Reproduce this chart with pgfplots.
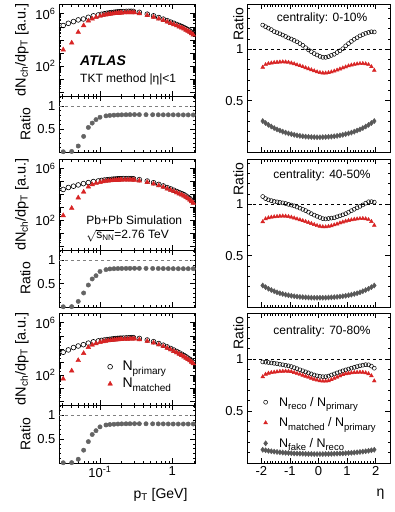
\documentclass[border=0pt]{standalone}
\usepackage{fontspec}
\setmainfont{Liberation Sans}
\usepackage{pgfplots}
\pgfplotsset{compat=1.18}
\definecolor{atlred}{RGB}{216,36,36}
\definecolor{dgray}{RGB}{88,88,88}
\definecolor{mgray}{RGB}{100,100,100}
\newcommand{\fs}[1]{\fontsize{#1}{#1}\selectfont}
\newcommand{\lsub}[1]{\raisebox{-4pt}{\fs{10}#1}}
\newcommand{\rsub}[1]{\raisebox{-3.5pt}{\fs{9.5}#1}}
\pgfplotsset{
  zzbase/.style={scale only axis, axis line style={black, line width=0.7pt},
    every tick/.style={black, line width=0.6pt}, major tick length=5pt, minor tick length=2.5pt,
    tick align=inside,
    tick label style={font=\fs{13}}, label style={font=\fs{14}}},
  zzleftx/.style={zzbase, xmin=0.0271, xmax=2.06, xtick={0.1,1},
    minor xtick={0.03,0.04,0.05,0.06,0.07,0.08,0.09,0.2,0.3,0.4,0.5,0.6,0.7,0.8,0.9,2},
    xticklabels={}, width=136pt},
  zzspec/.style={zzleftx, ymin=0.5, ymax=5.6e6,
    ytick={1,10,100,1000,10000,100000,1000000},
    yticklabels={,,10\textsuperscript{2},,,,10\textsuperscript{6}},
    ylabel={dN\textsubscript{ch}/dp\textsubscript{T} [a.u.]}, ylabel style={font=\fs{14.5}}},
  zzrat/.style={zzleftx, clip=false, ymin=0, ymax=1.22, ytick={0.5,1}, yticklabels={0.5,1},
    minor ytick={0.1,0.2,0.3,0.4,0.6,0.7,0.8,0.9,1.1,1.2}, ylabel={Ratio}},
  zzright/.style={zzbase, xmin=-2.5, xmax=2.5, xtick={-2,-1,0,1,2}, minor x tick num=9,
    xticklabels={}, ymin=0, ymax=1.44, ytick={0.5,1}, yticklabels={0.5,1},
    minor ytick={0.1,0.2,0.3,0.4,0.6,0.7,0.8,0.9,1.1,1.2,1.3,1.4}, width=143pt,
    ylabel={Ratio}, ylabel style={at={(ticklabel* cs:1)}, anchor=south east}},
  zzpc/.style={only marks, mark=o, mark size=2.4pt, black, mark options={line width=0.6pt}},
  zzpt/.style={only marks, mark=triangle*, mark size=2.7pt, atlred},
  zzrc/.style={only marks, mark=o, mark size=2pt, black, mark options={line width=0.5pt}},
  zzrt/.style={only marks, mark=triangle*, mark size=2.2pt, atlred},
  zzrd/.style={only marks, mark=diamond*, mark size=2.6pt, dgray},
  zzrr/.style={only marks, mark=*, mark size=2.2pt, mgray},
  zzdl/.style={black, dashed, line width=0.5pt, forget plot},
}
\begin{document}
\begin{tikzpicture}
\path[use as bounding box] (0pt,0pt) rectangle (395pt,-512pt);
% ---------------- left panel 1 ----------------
\begin{axis}[xmode=log, ymode=log, zzspec, at={(59pt,-4pt)}, anchor=north west, height=92pt]
\addplot[zzpc] coordinates {(0.031,1.26e5)(0.0365,1.86e5)(0.043,2.51e5)(0.050,3.39e5)(0.059,3.98e5)(0.069,5.37e5)(0.081,6.92e5)(0.095,8.13e5)(0.105,9.12e5)(0.115,1.00e6)(0.125,1.10e6)(0.135,1.17e6)(0.145,1.23e6)(0.155,1.29e6)(0.165,1.35e6)(0.175,1.38e6)(0.185,1.41e6)(0.195,1.45e6)(0.21,1.48e6)(0.23,1.51e6)(0.25,1.55e6)(0.27,1.55e6)(0.29,1.51e6)(0.35,1.29e6)(0.45,9.33e5)(0.55,6.92e5)(0.65,5.13e5)(0.75,3.89e5)(0.85,2.95e5)(0.95,2.29e5)(1.05,1.86e5)(1.15,1.51e5)(1.25,1.26e5)(1.35,1.05e5)(1.45,8.71e4)(1.55,7.08e4)(1.65,5.89e4)(1.75,4.79e4)(1.85,3.80e4)(1.95,3.02e4)};
\addplot[zzpt] coordinates {(0.031,1.74e3)(0.0406,5.89e3)(0.05,3.89e4)(0.0594,1.26e5)(0.069,2.88e5)(0.078,4.07e5)(0.088,5.37e5)(0.1,6.61e5)(0.11,7.50e5)(0.12,8.32e5)(0.13,9.12e5)(0.14,9.77e5)(0.15,1.02e6)(0.16,1.07e6)(0.17,1.11e6)(0.18,1.14e6)(0.19,1.16e6)(0.2,1.17e6)(0.22,1.22e6)(0.24,1.24e6)(0.26,1.26e6)(0.28,1.24e6)(0.3,1.22e6)(0.35,1.05e6)(0.45,7.59e5)(0.55,5.62e5)(0.65,4.17e5)(0.75,3.16e5)(0.85,2.40e5)(0.95,1.86e5)(1.05,1.51e5)(1.15,1.23e5)(1.25,1.02e5)(1.35,8.51e4)(1.45,7.08e4)(1.55,5.75e4)(1.65,4.79e4)(1.75,3.89e4)(1.85,3.09e4)(1.95,2.45e4)};
\node[anchor=west, font=\fs{14}] at (rel axis cs:0.13,0.38) {\textbf{\textit{ATLAS}}};
\node[anchor=west, font=\fs{12}] at (rel axis cs:0.13,0.185) {TKT method |η|<1};
\end{axis}
\begin{axis}[xmode=log, zzrat, at={(59pt,-96pt)}, anchor=north west, height=56pt]
\addplot[zzdl, gray] coordinates {(0.0271,1)(2.06,1)};
\addplot[zzrr, error bars/.cd, x dir=both, x explicit, error bar style={black, line width=0.6pt}, error mark=none] coordinates {(0.031,0.005)(0.0406,0.012)(0.05,0.13)(0.0594,0.34)(0.069,0.535)(0.078,0.63)(0.088,0.705)(0.1,0.757)(0.121,0.787)(0.137,0.797)(0.156,0.803)(0.177,0.807)(0.2,0.81)(0.229,0.812)(0.26,0.814)(0.3,0.815) +- (0.045,0)(0.35,0.814)(0.433,0.813)(0.535,0.812)(0.64,0.811)(0.75,0.81)(0.88,0.81)(1.03,0.81)(1.21,0.809)(1.42,0.808)(1.66,0.808)(1.95,0.807)};
\end{axis}
% ---------------- left panel 2 ----------------
\begin{axis}[xmode=log, ymode=log, zzspec, at={(59pt,-159pt)}, anchor=north west, height=91pt]
\addplot[zzpc] coordinates {(0.031,2.45e4)(0.0365,3.47e4)(0.043,4.37e4)(0.050,5.50e4)(0.059,6.92e4)(0.069,8.32e4)(0.081,1.00e5)(0.095,1.12e5)(0.105,1.23e5)(0.115,1.32e5)(0.125,1.38e5)(0.135,1.45e5)(0.145,1.51e5)(0.155,1.55e5)(0.165,1.58e5)(0.175,1.62e5)(0.185,1.66e5)(0.195,1.66e5)(0.21,1.70e5)(0.23,1.70e5)(0.25,1.70e5)(0.27,1.70e5)(0.29,1.66e5)(0.35,1.41e5)(0.45,1.10e5)(0.55,8.13e4)(0.65,6.03e4)(0.75,4.57e4)(0.85,3.39e4)(0.95,2.69e4)(1.05,2.14e4)(1.15,1.70e4)(1.25,1.38e4)(1.35,1.15e4)(1.45,9.55e3)(1.55,7.59e3)(1.65,6.03e3)(1.75,4.68e3)(1.85,3.55e3)(1.95,2.69e3)};
\addplot[zzpt] coordinates {(0.031,2.34e2)(0.0406,8.71e2)(0.05,5.62e3)(0.0594,1.58e4)(0.069,3.89e4)(0.078,5.89e4)(0.088,7.24e4)(0.1,8.91e4)(0.11,1.00e5)(0.12,1.08e5)(0.13,1.15e5)(0.14,1.20e5)(0.15,1.24e5)(0.16,1.27e5)(0.17,1.30e5)(0.18,1.33e5)(0.19,1.35e5)(0.2,1.36e5)(0.22,1.38e5)(0.24,1.38e5)(0.26,1.38e5)(0.28,1.36e5)(0.3,1.33e5)(0.35,1.15e5)(0.45,8.91e4)(0.55,6.61e4)(0.65,4.90e4)(0.75,3.72e4)(0.85,2.75e4)(0.95,2.19e4)(1.05,1.74e4)(1.15,1.38e4)(1.25,1.12e4)(1.35,9.33e3)(1.45,7.76e3)(1.55,6.17e3)(1.65,4.90e3)(1.75,3.80e3)(1.85,2.88e3)(1.95,2.19e3)};
\node[anchor=base west, font=\fs{12}, inner sep=0pt] at (rel axis cs:0.2,0.285) {Pb+Pb Simulation};
\node[anchor=base west, font=\fs{12}, inner sep=0pt] at (rel axis cs:0.2,0.125) {$\sqrt{\mbox{s\textsubscript{NN}}}$=2.76 TeV};
\end{axis}
\begin{axis}[xmode=log, zzrat, at={(59pt,-250pt)}, anchor=north west, height=57pt]
\addplot[zzdl, gray] coordinates {(0.0271,1)(2.06,1)};
\addplot[zzrr, error bars/.cd, x dir=both, x explicit, error bar style={black, line width=0.6pt}, error mark=none] coordinates {(0.031,0.005)(0.0406,0.008)(0.05,0.12)(0.0594,0.30)(0.069,0.47)(0.078,0.60)(0.088,0.67)(0.1,0.76)(0.121,0.80)(0.137,0.815)(0.156,0.82)(0.177,0.823)(0.2,0.825)(0.229,0.826)(0.26,0.827)(0.3,0.828) +- (0.045,0)(0.35,0.827)(0.433,0.826)(0.535,0.825)(0.64,0.824)(0.75,0.823)(0.88,0.822)(1.03,0.821)(1.21,0.82)(1.42,0.82)(1.66,0.82)(1.95,0.82)};
\end{axis}
% ---------------- left panel 3 ----------------
\begin{axis}[xmode=log, ymode=log, zzspec, at={(59pt,-313pt)}, anchor=north west, height=92pt,
  legend style={at={(rel axis cs:0.357,0.5)}, anchor=north west, draw=none, fill=none, font=\fs{14}, row sep=2pt, column sep=8pt, inner sep=0pt}, legend cell align=left]
\addplot[zzpc] coordinates {(0.031,5.50e3)(0.0365,8.32e3)(0.043,1.26e4)(0.050,1.66e4)(0.059,2.09e4)(0.069,2.75e4)(0.081,3.47e4)(0.095,4.07e4)(0.105,4.47e4)(0.115,4.79e4)(0.125,5.13e4)(0.135,5.37e4)(0.145,5.62e4)(0.155,5.89e4)(0.165,6.17e4)(0.175,6.31e4)(0.185,6.46e4)(0.195,6.61e4)(0.21,6.76e4)(0.23,6.92e4)(0.25,7.08e4)(0.27,7.24e4)(0.29,7.24e4)(0.35,6.31e4)(0.45,4.79e4)(0.55,3.55e4)(0.65,2.57e4)(0.75,1.91e4)(0.85,1.41e4)(0.95,1.07e4)(1.05,8.13e3)(1.15,6.31e3)(1.25,4.90e3)(1.35,3.89e3)(1.45,3.09e3)(1.55,2.45e3)(1.65,1.95e3)(1.75,1.55e3)(1.85,1.20e3)(1.95,9.33e2)};
\addlegendentry{N\lsub{primary}}
\addplot[zzpt] coordinates {(0.031,50.1)(0.0406,2.09e2)(0.05,1.32e3)(0.0594,4.57e3)(0.069,1.32e4)(0.078,2.00e4)(0.088,2.57e4)(0.1,3.24e4)(0.11,3.67e4)(0.12,3.98e4)(0.13,4.27e4)(0.14,4.47e4)(0.15,4.68e4)(0.16,4.90e4)(0.17,5.07e4)(0.18,5.19e4)(0.19,5.31e4)(0.2,5.43e4)(0.22,5.56e4)(0.24,5.69e4)(0.26,5.82e4)(0.28,5.89e4)(0.3,5.82e4)(0.35,5.13e4)(0.45,3.89e4)(0.55,2.88e4)(0.65,2.09e4)(0.75,1.55e4)(0.85,1.15e4)(0.95,8.71e3)(1.05,6.61e3)(1.15,5.13e3)(1.25,3.98e3)(1.35,3.16e3)(1.45,2.51e3)(1.55,2.00e3)(1.65,1.58e3)(1.75,1.26e3)(1.85,9.77e2)(1.95,7.59e2)};
\addlegendentry{N\lsub{matched}}
\end{axis}
\begin{axis}[xmode=log, zzrat, at={(59pt,-405pt)}, anchor=north west, height=58pt,
  xticklabels={10\textsuperscript{-1},1}, xlabel={p\textsubscript{T} [GeV]},
  xlabel style={at={(rel axis cs:1,0)}, anchor=north east, yshift=-22pt, xshift=-4pt}]
\addplot[zzdl, gray] coordinates {(0.0271,1)(2.06,1)};
\addplot[zzrr, error bars/.cd, x dir=both, x explicit, error bar style={black, line width=0.6pt}, error mark=none] coordinates {(0.031,0.005)(0.0406,0.008)(0.05,0.08)(0.0594,0.27)(0.069,0.45)(0.078,0.60)(0.088,0.68)(0.1,0.76)(0.121,0.80)(0.137,0.81)(0.156,0.815)(0.177,0.82)(0.2,0.823)(0.229,0.825)(0.26,0.826)(0.3,0.827) +- (0.045,0)(0.35,0.826)(0.433,0.825)(0.535,0.824)(0.64,0.823)(0.75,0.822)(0.88,0.821)(1.03,0.82)(1.21,0.82)(1.42,0.82)(1.66,0.82)(1.95,0.82)};
\end{axis}
% ---------------- right panel 1 ----------------
\begin{axis}[zzright, at={(247pt,-4pt)}, anchor=north west, height=148pt]
\addplot[zzdl] coordinates {(-2.5,1)(2.5,1)};
\addplot[zzrc] coordinates {(-1.95,1.235)(-1.85,1.219)(-1.75,1.205)(-1.65,1.191)(-1.55,1.172)(-1.45,1.162)(-1.35,1.150)(-1.25,1.138)(-1.15,1.124)(-1.05,1.110)(-0.95,1.099)(-0.85,1.086)(-0.75,1.072)(-0.65,1.055)(-0.55,1.038)(-0.45,1.015)(-0.35,0.994)(-0.25,0.976)(-0.15,0.958)(-0.05,0.944)(0.05,0.930)(0.15,0.921)(0.25,0.921)(0.35,0.928)(0.45,0.940)(0.55,0.951)(0.65,0.968)(0.75,0.985)(0.85,1.005)(0.95,1.033)(1.05,1.055)(1.15,1.076)(1.25,1.097)(1.35,1.112)(1.45,1.130)(1.55,1.143)(1.65,1.155)(1.75,1.163)(1.85,1.170)(1.95,1.168)};
\addplot[zzrt] coordinates {(-1.95,0.825)(-1.85,0.850)(-1.75,0.860)(-1.65,0.866)(-1.55,0.870)(-1.45,0.873)(-1.35,0.876)(-1.25,0.877)(-1.15,0.876)(-1.05,0.872)(-0.95,0.866)(-0.85,0.858)(-0.75,0.848)(-0.65,0.840)(-0.55,0.830)(-0.45,0.820)(-0.35,0.810)(-0.25,0.800)(-0.15,0.790)(-0.05,0.780)(0.05,0.773)(0.15,0.769)(0.25,0.768)(0.35,0.772)(0.45,0.779)(0.55,0.787)(0.65,0.797)(0.75,0.808)(0.85,0.818)(0.95,0.828)(1.05,0.838)(1.15,0.846)(1.25,0.852)(1.35,0.857)(1.45,0.860)(1.55,0.861)(1.65,0.858)(1.75,0.850)(1.85,0.830)(1.95,0.795)};
\addplot[zzrd] coordinates {(-1.95,0.301)(-1.85,0.282)(-1.75,0.264)(-1.65,0.248)(-1.55,0.233)(-1.45,0.220)(-1.35,0.209)(-1.25,0.198)(-1.15,0.189)(-1.05,0.181)(-0.95,0.174)(-0.85,0.167)(-0.75,0.162)(-0.65,0.157)(-0.55,0.153)(-0.45,0.150)(-0.35,0.148)(-0.25,0.146)(-0.15,0.145)(-0.05,0.144)(0.05,0.144)(0.15,0.145)(0.25,0.146)(0.35,0.148)(0.45,0.150)(0.55,0.153)(0.65,0.157)(0.75,0.162)(0.85,0.167)(0.95,0.174)(1.05,0.181)(1.15,0.189)(1.25,0.198)(1.35,0.209)(1.45,0.220)(1.55,0.233)(1.65,0.248)(1.75,0.264)(1.85,0.282)(1.95,0.301)};
\node[font=\fs{12}] at (rel axis cs:0.525,0.9) {centrality: 0-10\%};
\end{axis}
% ---------------- right panel 2 ----------------
\begin{axis}[zzright, at={(247pt,-159pt)}, anchor=north west, height=148pt]
\addplot[zzdl] coordinates {(-2.5,1)(2.5,1)};
\addplot[zzrc] coordinates {(-1.95,1.075)(-1.85,1.055)(-1.75,1.043)(-1.65,1.035)(-1.55,1.027)(-1.45,1.023)(-1.35,1.018)(-1.25,1.013)(-1.15,1.007)(-1.05,0.999)(-0.95,0.992)(-0.85,0.984)(-0.75,0.973)(-0.65,0.962)(-0.55,0.950)(-0.45,0.938)(-0.35,0.923)(-0.25,0.908)(-0.15,0.894)(-0.05,0.882)(0.05,0.871)(0.15,0.860)(0.25,0.857)(0.35,0.861)(0.45,0.865)(0.55,0.868)(0.65,0.878)(0.75,0.887)(0.85,0.897)(0.95,0.908)(1.05,0.922)(1.15,0.937)(1.25,0.951)(1.35,0.965)(1.45,0.979)(1.55,0.993)(1.65,1.010)(1.75,1.024)(1.85,1.025)(1.95,1.020)};
\addplot[zzrt] coordinates {(-1.95,0.830)(-1.85,0.858)(-1.75,0.868)(-1.65,0.874)(-1.55,0.878)(-1.45,0.881)(-1.35,0.884)(-1.25,0.885)(-1.15,0.884)(-1.05,0.880)(-0.95,0.874)(-0.85,0.866)(-0.75,0.857)(-0.65,0.849)(-0.55,0.840)(-0.45,0.831)(-0.35,0.822)(-0.25,0.812)(-0.15,0.802)(-0.05,0.792)(0.05,0.786)(0.15,0.781)(0.25,0.780)(0.35,0.784)(0.45,0.791)(0.55,0.799)(0.65,0.808)(0.75,0.818)(0.85,0.827)(0.95,0.835)(1.05,0.842)(1.15,0.848)(1.25,0.853)(1.35,0.857)(1.45,0.860)(1.55,0.861)(1.65,0.858)(1.75,0.850)(1.85,0.832)(1.95,0.795)};
\addplot[zzrd] coordinates {(-1.95,0.209)(-1.85,0.193)(-1.75,0.178)(-1.65,0.165)(-1.55,0.154)(-1.45,0.143)(-1.35,0.134)(-1.25,0.127)(-1.15,0.120)(-1.05,0.114)(-0.95,0.109)(-0.85,0.105)(-0.75,0.101)(-0.65,0.098)(-0.55,0.096)(-0.45,0.094)(-0.35,0.092)(-0.25,0.091)(-0.15,0.090)(-0.05,0.090)(0.05,0.090)(0.15,0.090)(0.25,0.091)(0.35,0.092)(0.45,0.094)(0.55,0.096)(0.65,0.098)(0.75,0.101)(0.85,0.105)(0.95,0.109)(1.05,0.114)(1.15,0.120)(1.25,0.127)(1.35,0.134)(1.45,0.143)(1.55,0.154)(1.65,0.165)(1.75,0.178)(1.85,0.193)(1.95,0.209)};
\node[font=\fs{12}] at (rel axis cs:0.525,0.89) {centrality: 40-50\%};
\end{axis}
% ---------------- right panel 3 ----------------
\begin{axis}[zzright, at={(247pt,-313pt)}, anchor=north west, height=150pt,
  xticklabels={-2,-1,0,1,2}, xlabel={η}, xlabel style={at={(rel axis cs:1,0)}, anchor=north east, yshift=-22pt, xshift=-2pt},
  legend style={at={(rel axis cs:0.115,0.455)}, anchor=north west, draw=none, fill=none, font=\fs{12.5}, row sep=6pt, column sep=9.5pt, inner sep=0pt}, legend cell align=left]
\addplot[zzdl] coordinates {(-2.5,1)(2.5,1)};
\addplot[zzrc] coordinates {(-1.95,0.970)(-1.85,0.968)(-1.75,0.965)(-1.65,0.961)(-1.55,0.957)(-1.45,0.953)(-1.35,0.948)(-1.25,0.943)(-1.15,0.938)(-1.05,0.933)(-0.95,0.926)(-0.85,0.916)(-0.75,0.906)(-0.65,0.895)(-0.55,0.885)(-0.45,0.875)(-0.35,0.865)(-0.25,0.855)(-0.15,0.845)(-0.05,0.837)(0.05,0.832)(0.15,0.829)(0.25,0.829)(0.35,0.834)(0.45,0.845)(0.55,0.855)(0.65,0.865)(0.75,0.875)(0.85,0.885)(0.95,0.894)(1.05,0.902)(1.15,0.910)(1.25,0.918)(1.35,0.926)(1.45,0.933)(1.55,0.939)(1.65,0.944)(1.75,0.943)(1.85,0.930)(1.95,0.910)};
\addlegendentry{N\rsub{reco} / N\rsub{primary}}
\addplot[zzrt] coordinates {(-1.95,0.828)(-1.85,0.852)(-1.75,0.862)(-1.65,0.868)(-1.55,0.872)(-1.45,0.876)(-1.35,0.879)(-1.25,0.881)(-1.15,0.882)(-1.05,0.881)(-0.95,0.877)(-0.85,0.869)(-0.75,0.860)(-0.65,0.851)(-0.55,0.842)(-0.45,0.833)(-0.35,0.824)(-0.25,0.814)(-0.15,0.804)(-0.05,0.796)(0.05,0.790)(0.15,0.786)(0.25,0.786)(0.35,0.790)(0.45,0.800)(0.55,0.812)(0.65,0.824)(0.75,0.836)(0.85,0.848)(0.95,0.857)(1.05,0.862)(1.15,0.866)(1.25,0.869)(1.35,0.871)(1.45,0.872)(1.55,0.871)(1.65,0.866)(1.75,0.857)(1.85,0.838)(1.95,0.788)};
\addlegendentry{N\rsub{matched} / N\rsub{primary}}
\addplot[zzrd] coordinates {(-1.95,0.127)(-1.85,0.122)(-1.75,0.117)(-1.65,0.113)(-1.55,0.109)(-1.45,0.106)(-1.35,0.103)(-1.25,0.100)(-1.15,0.098)(-1.05,0.096)(-0.95,0.094)(-0.85,0.092)(-0.75,0.091)(-0.65,0.090)(-0.55,0.089)(-0.45,0.088)(-0.35,0.087)(-0.25,0.087)(-0.15,0.086)(-0.05,0.086)(0.05,0.086)(0.15,0.086)(0.25,0.087)(0.35,0.087)(0.45,0.088)(0.55,0.089)(0.65,0.090)(0.75,0.091)(0.85,0.092)(0.95,0.094)(1.05,0.096)(1.15,0.098)(1.25,0.100)(1.35,0.103)(1.45,0.106)(1.55,0.109)(1.65,0.113)(1.75,0.117)(1.85,0.122)(1.95,0.127)};
\addlegendentry{N\rsub{fake} / N\rsub{reco}}
\node[font=\fs{12}] at (rel axis cs:0.525,0.88) {centrality: 70-80\%};
\end{axis}
\end{tikzpicture}
\end{document}
